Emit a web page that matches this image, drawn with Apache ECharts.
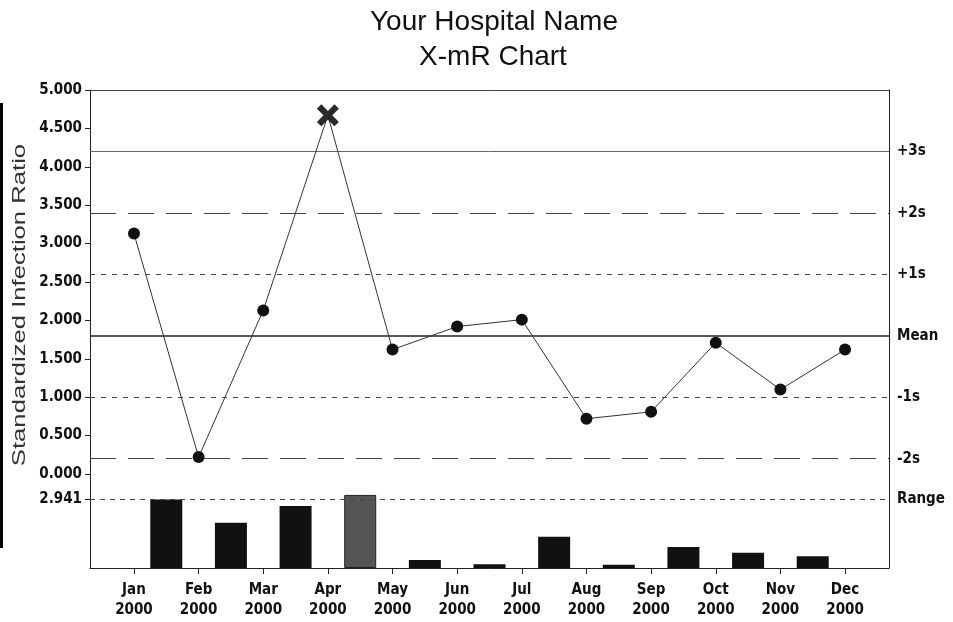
<!DOCTYPE html>
<html>
<head>
<meta charset="utf-8">
<script src="https://cdn.jsdelivr.net/npm/echarts@6/dist/echarts.min.js"></script>
<style>html,body{margin:0;padding:0;background:#fff}#c{width:953px;height:622px}</style>
</head>
<body>
<div id="c"></div>
<script>
// ---- data ----
const months = ['Jan','Feb','Mar','Apr','May','Jun','Jul','Aug','Sep','Oct','Nov','Dec'];
const yearLabel = '2000';
const sirValues = [3.13, 0.22, 2.13, 4.67, 1.62, 1.92, 2.01, 0.72, 0.81, 1.71, 1.10, 1.62];
// moving ranges, Feb..Dec (plotted between consecutive months)
const movingRange = [2.92, 1.93, 2.64, 3.11, 0.34, 0.16, 1.33, 0.14, 0.89, 0.65, 0.50];
const controlNames = ['+3s', '+2s', '+1s', 'Mean', '-1s', '-2s'];
const controlValues = [4.2, 3.4, 2.6, 1.8, 1.0, 0.2];
const rangeLimit = 2.941;
const rangeName = 'Range';
const outOfControlPoint = 3;   // Apr
const outOfControlRange = 3;   // May bar

// ---- styles ----
const NARROW = "'Liberation Sans Narrow','Arial Narrow','DejaVu Sans Condensed',sans-serif";
const lineStyles = [
  {type: 'solid', color: '#666', width: 1},
  {type: [26, 12], color: '#444', width: 1},
  {type: [5, 6], color: '#444', width: 1},
  {type: 'solid', color: '#222', width: 1.5},
  {type: [5, 6], color: '#444', width: 1},
  {type: [26, 12], color: '#444', width: 1}
];
const XPATH = 'path://M4,0 L10,6 L16,0 L20,4 L14,10 L20,16 L16,20 L10,14 L4,20 L0,16 L6,10 L0,4 Z';
const ticks = months.map((m, i) => i);
const xMin = -0.68, xMax = 11.68;
const axisCol = '#222';

const chart = echarts.init(document.getElementById('c'), null, {renderer: 'canvas'});
const labelFont = {fontFamily: NARROW, fontWeight: 'bold', fontSize: 15, color: '#111'};

const option = {
  animation: false,
  backgroundColor: '#fff',
  graphic: [
    {type: 'text', x: 494, y: 22, style: {text: 'Your Hospital Name', font: '28px "Liberation Sans", Arial, sans-serif', fill: '#111', textAlign: 'center', textVerticalAlign: 'middle'}},
    {type: 'text', x: 493, y: 57, style: {text: 'X-mR Chart', font: '28px "Liberation Sans", Arial, sans-serif', fill: '#111', textAlign: 'center', textVerticalAlign: 'middle'}},
    {type: 'text', x: 20, y: 305, rotation: Math.PI / 2, scaleX: 1.35, style: {text: 'Standardized Infection Ratio', font: '19px "Liberation Sans", Arial, sans-serif', fill: '#333', textAlign: 'center', textVerticalAlign: 'middle'}},
    {type: 'rect', shape: {x: 0, y: 103, width: 3, height: 445}, style: {fill: '#000'}}
  ],
  grid: [
    {left: 90, right: 64, top: 90, height: 384},
    {left: 90, right: 64, top: 474, height: 94}
  ],
  xAxis: [
    {gridIndex: 0, type: 'value', min: xMin, max: xMax, position: 'top',
      axisLine: {show: true, onZero: false, lineStyle: {color: '#444', width: 1}},
      axisTick: {show: false}, axisLabel: {show: false}, splitLine: {show: false}},
    {gridIndex: 1, type: 'value', min: xMin, max: xMax, position: 'bottom',
      axisLine: {show: true, onZero: false, lineStyle: {color: axisCol, width: 1}},
      axisTick: {show: true, length: 6, customValues: ticks, lineStyle: {color: axisCol}},
      axisLabel: Object.assign({customValues: ticks, formatter: v => months[Math.round(v)] + '\n' + yearLabel, lineHeight: 20, margin: 12}, labelFont),
      splitLine: {show: false}}
  ],
  yAxis: [
    {gridIndex: 0, type: 'value', min: 0, max: 5, interval: 0.5, position: 'left',
      axisLine: {show: true, onZero: false, lineStyle: {color: axisCol}},
      axisTick: {show: true, length: 5, lineStyle: {color: axisCol}},
      axisLabel: Object.assign({formatter: v => v.toFixed(3), margin: 8, showMinLabel: true, showMaxLabel: true}, labelFont),
      splitLine: {show: false}},
    {gridIndex: 0, type: 'value', min: 0, max: 5, position: 'right',
      axisLine: {show: true, onZero: false, lineStyle: {color: axisCol}},
      axisTick: {show: false}, axisLabel: {show: false}, splitLine: {show: false}},
    {gridIndex: 1, type: 'value', min: 0, max: 4, position: 'left',
      axisLine: {show: true, onZero: false, lineStyle: {color: axisCol}},
      axisTick: {show: true, length: 5, customValues: [rangeLimit], lineStyle: {color: axisCol}},
      axisLabel: Object.assign({customValues: [rangeLimit], formatter: v => v.toFixed(3), margin: 8}, labelFont),
      splitLine: {show: false}},
    {gridIndex: 1, type: 'value', min: 0, max: 4, position: 'right',
      axisLine: {show: true, onZero: false, lineStyle: {color: axisCol}},
      axisTick: {show: false}, axisLabel: {show: false}, splitLine: {show: false}}
  ],
  series: [
    {
      type: 'line', xAxisIndex: 0, yAxisIndex: 0, z: 5,
      data: sirValues.map((v, i) => i === outOfControlPoint
        ? {value: [i, v], symbol: XPATH, symbolSize: 22, itemStyle: {color: '#2a2a2a'}}
        : [i, v]),
      symbol: 'circle', symbolSize: 12,
      itemStyle: {color: '#111'},
      lineStyle: {color: '#333', width: 1},
      markLine: {
        silent: true, symbol: ['none', 'none'], animation: false,
        label: Object.assign({position: 'end', distance: 8}, labelFont),
        data: controlValues.map((v, i) => ({
          yAxis: v, name: controlNames[i], lineStyle: lineStyles[i],
          label: {formatter: controlNames[i]}
        }))
      }
    },
    {
      type: 'bar', xAxisIndex: 1, yAxisIndex: 2, barWidth: 32,
      data: movingRange.map((v, i) => i === outOfControlRange
        ? {value: [i + 0.5, v], itemStyle: {color: '#555', borderColor: '#222', borderWidth: 1}}
        : [i + 0.5, v]),
      itemStyle: {color: '#111'},
      markLine: {
        silent: true, symbol: ['none', 'none'], animation: false,
        label: Object.assign({position: 'end', distance: 8, formatter: rangeName}, labelFont),
        data: [{yAxis: rangeLimit, lineStyle: {type: [5, 5], color: '#444', width: 1}}]
      }
    }
  ]
};
chart.setOption(option);
</script>
</body>
</html>
